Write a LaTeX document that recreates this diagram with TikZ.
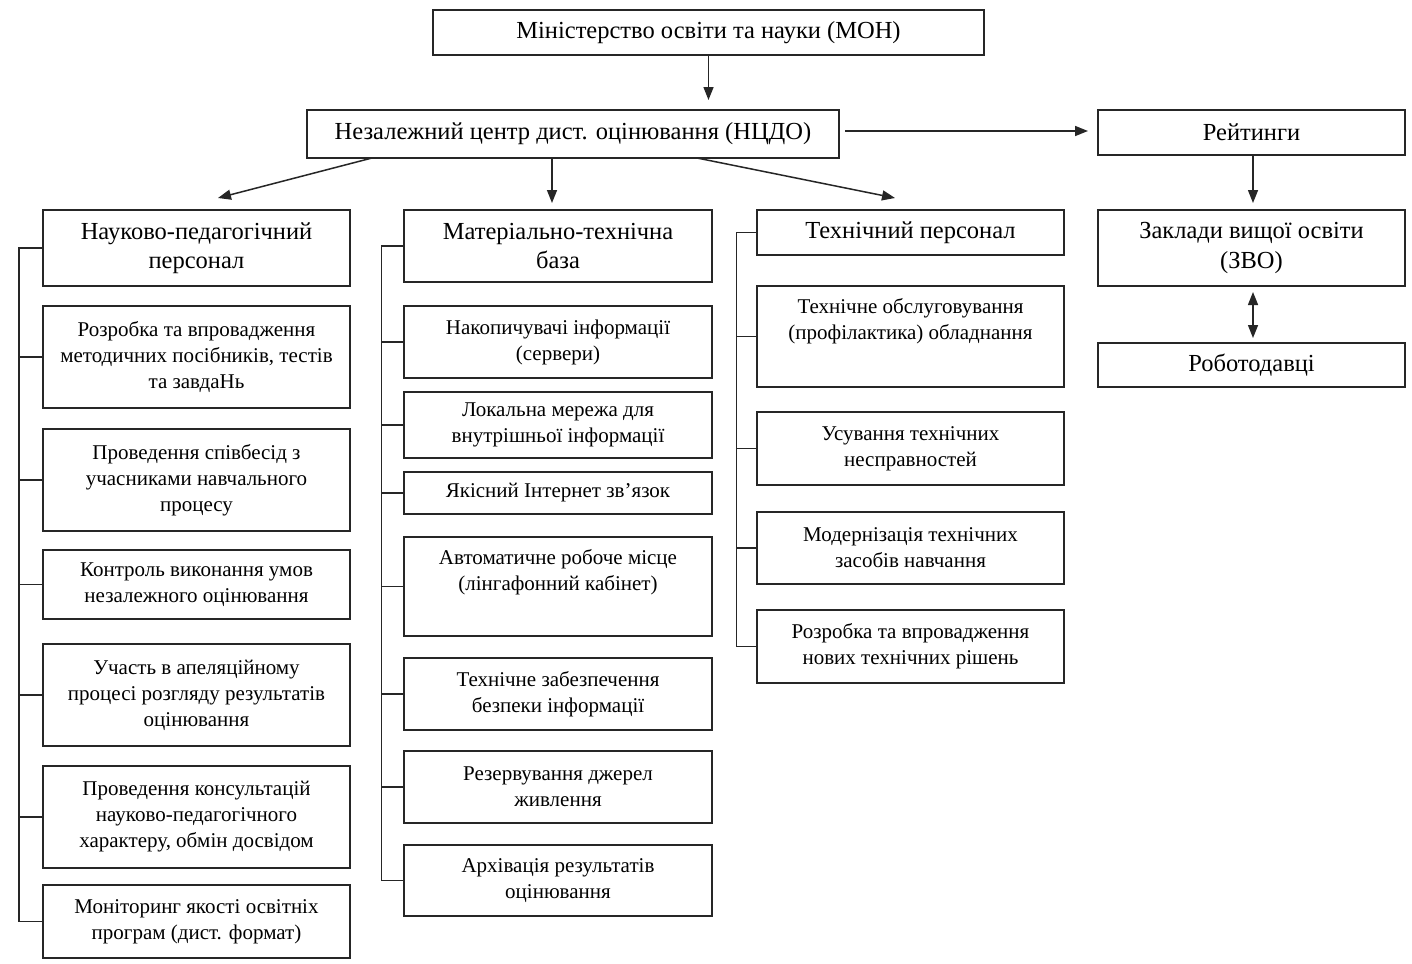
\documentclass[tikz,border=0pt]{standalone}
\usepackage{fontspec}
\setmainfont{Liberation Serif}
\usetikzlibrary{arrows.meta,calc}
\begin{document}
\begin{tikzpicture}[x=1bp,y=-1bp,
  box/.style={draw=black!85, line width=1.5bp, inner sep=0pt, align=center},
  hd/.style={box, font=\fontsize{24.5bp}{29.5bp}\selectfont},
  bd/.style={box, font=\fontsize{21bp}{26bp}\selectfont},
  txt/.style={inner sep=0pt, align=center, font=\fontsize{21bp}{26bp}\selectfont},
  conn/.style={draw=black!85, line width=1.5bp},
  arr/.style={conn, -{Triangle[length=13bp,width=10bp]}},
  darr/.style={conn, {Triangle[length=13bp,width=10bp]}-{Triangle[length=13bp,width=10bp]}}]
\useasboundingbox[fill=white] (0,0) rectangle (1412,963);
% top
\node[hd, minimum width=551bp, minimum height=45bp] (mon) at (708.5,32.5) {Міністерство освіти та науки (МОН)};
\node[hd, minimum width=532bp, minimum height=48bp] (ncdo) at (573,134) {Незалежний центр дист. оцінювання (НЦДО)};
\node[hd, minimum width=307bp, minimum height=45bp] (rat) at (1251.5,132.5) {Рейтинги};
\node[hd, minimum width=307bp, minimum height=76bp] (zvo) at (1251.5,248) {Заклади вищої освіти\\(ЗВО)};
\node[hd, minimum width=307bp, minimum height=44bp] (rob) at (1251.5,365) {Роботодавці};
% column 1
\node[hd, minimum width=307bp, minimum height=76bp] (h1) at (196.5,248) {Науково-педагогічний\\персонал};
\node[bd, minimum width=307bp, minimum height=102bp] (b1) at (196.5,357) {Розробка та впровадження\\методичних посібників, тестів\\та завдаНь};
\node[bd, minimum width=307bp, minimum height=102bp] (b2) at (196.5,480) {Проведення співбесід з\\учасниками навчального\\процесу};
\node[bd, minimum width=307bp, minimum height=69bp] (b3) at (196.5,584.5) {Контроль виконання умов\\незалежного оцінювання};
\node[bd, minimum width=307bp, minimum height=102bp] (b4) at (196.5,695) {Участь в апеляційному\\процесі розгляду результатів\\оцінювання};
\node[bd, minimum width=307bp, minimum height=102bp] (b5) at (196.5,817) {Проведення консультацій\\науково-педагогічного\\характеру, обмін досвідом};
\node[bd, minimum width=307bp, minimum height=73bp] (b6) at (196.5,921.5) {Моніторинг якості освітніх\\програм (дист. формат)};
% column 2
\node[hd, minimum width=308bp, minimum height=72bp] (h2) at (558,246) {Матеріально-технічна\\база};
\node[bd, minimum width=308bp, minimum height=72bp] (c1) at (558,342) {Накопичувачі інформації\\(сервери)};
\node[bd, minimum width=308bp, minimum height=66bp] (c2) at (558,425) {Локальна мережа для\\внутрішньої інформації};
\node[bd, minimum width=308bp, minimum height=42bp] (c3) at (558,493) {Якісний Інтернет зв’язок};
\node[box, minimum width=308bp, minimum height=99bp] (c4) at (558,586.5) {};
\node[txt, anchor=north] (c4t) at ($(c4.north)+(0,13)$) {Автоматичне робоче місце\\(лінгафонний кабінет)};
\node[bd, minimum width=308bp, minimum height=72bp] (c5) at (558,694) {Технічне забезпечення\\безпеки інформації};
\node[bd, minimum width=308bp, minimum height=72bp] (c6) at (558,787) {Резервування джерел\\живлення};
\node[bd, minimum width=308bp, minimum height=71bp] (c7) at (558,880.5) {Архівація результатів\\оцінювання};
% column 3
\node[hd, minimum width=307bp, minimum height=45bp] (h3) at (910.5,232.5) {Технічний персонал};
\node[box, minimum width=307bp, minimum height=101bp] (d1) at (910.5,336.5) {};
\node[txt, anchor=north] (d1t) at ($(d1.north)+(0,13)$) {Технічне обслуговування\\(профілактика) обладнання};
\node[bd, minimum width=307bp, minimum height=73bp] (d2) at (910.5,448.5) {Усування технічних\\несправностей};
\node[bd, minimum width=307bp, minimum height=72bp] (d3) at (910.5,548) {Модернізація технічних\\засобів навчання};
\node[bd, minimum width=307bp, minimum height=73bp] (d4) at (910.5,646.5) {Розробка та впровадження\\нових технічних рішень};
% arrows
\coordinate (a0) at (708.5,100);
\draw[arr] (mon.south -| a0) -- (a0);
\coordinate (a1s) at (372,158);
\coordinate (a1e) at (218,198);
\draw[arr] (a1s) -- (a1e);
\coordinate (a2s) at (552,158);
\coordinate (a2e) at (552,203);
\draw[arr] (a2s) -- (a2e);
\coordinate (a3s) at (697,158);
\coordinate (a3e) at (895,198);
\draw[arr] (a3s) -- (a3e);
\coordinate (a4s) at (845,131);
\coordinate (a4e) at (1088,131);
\draw[arr] (a4s) -- (a4e);
\coordinate (a5e) at (1253,203);
\draw[arr] (rat.south -| a5e) -- (a5e);
\coordinate (a6s) at (1253,292);
\coordinate (a6e) at (1253,338);
\draw[darr] (a6s) -- (a6e);
% spines
\draw[conn] (h1.west) -- ++(-23,0) |- (b6.west);
\foreach \n in {b1,b2,b3,b4,b5} \draw[conn] (\n.west) -- ++(-23,0);
\draw[conn] (h2.west) -- ++(-22,0) |- (c7.west);
\foreach \n in {c1,c2,c3,c4,c5,c6} \draw[conn] (\n.west) -- ++(-22,0);
\draw[conn] (h3.west) -- ++(-20,0) |- (d4.west);
\foreach \n in {d1,d2,d3} \draw[conn] (\n.west) -- ++(-20,0);
\end{tikzpicture}
\end{document}
